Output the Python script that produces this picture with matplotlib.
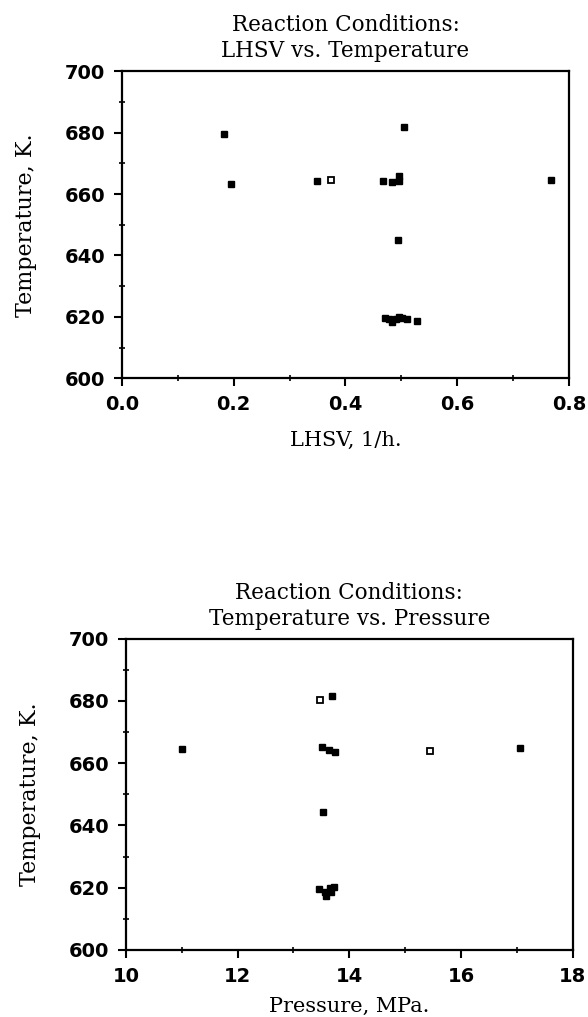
import matplotlib
matplotlib.use("Agg")
import matplotlib.pyplot as plt
from matplotlib.ticker import MultipleLocator

# LHSV vs temperature
lhsv = [0.183, 0.195, 0.349, 0.374, 0.468, 0.483, 0.495, 0.495, 0.505, 0.494,
        0.471, 0.478, 0.484, 0.490, 0.495, 0.502, 0.510, 0.528, 0.768]
temp_a = [679.7, 663.2, 664.2, 664.5, 664.3, 664.0, 664.1, 666.0, 681.9, 645.0,
          619.5, 619.3, 618.4, 619.3, 620.0, 619.7, 619.3, 618.8, 664.5]
hollow_a = [3]

# pressure vs temperature
pressure = [11.0, 13.47, 13.69, 13.51, 13.63, 13.74, 13.53, 15.44, 17.05,
            13.45, 13.56, 13.65, 13.72, 13.59, 13.68]
temp_b = [664.6, 680.2, 681.5, 665.3, 664.3, 663.7, 644.3, 663.8, 664.8,
          619.6, 618.6, 619.9, 620.3, 617.4, 618.6]
hollow_b = [1, 7]

xticks_a = [0.0, 0.2, 0.4, 0.6, 0.8]
xticks_b = [10, 12, 14, 16, 18]
yticks = [600, 620, 640, 660, 680, 700]

serif = ['DejaVu Serif']
sans = ['DejaVu Sans']

fig = plt.figure(figsize=(5.88, 10.17), dpi=100)
ax1 = fig.add_axes([0.2075, 0.628, 0.760, 0.302])
ax2 = fig.add_axes([0.214, 0.066, 0.760, 0.306])


def draw(ax, x, y, hollow, xt, xfmt, xminor, title, xlabel, xlpad):
    for i in range(len(x)):
        if i in hollow:
            ax.plot(x[i], y[i], 's', ms=4, mfc='white', mec='black', mew=1.3)
        else:
            ax.plot(x[i], y[i], 's', ms=4, color='black')
    ax.set_xlim(xt[0], xt[-1])
    ax.set_ylim(600, 700)
    ax.set_xticks(xt)
    ax.set_xticklabels([xfmt % v for v in xt])
    ax.set_yticks(yticks)
    ax.set_yticklabels([str(v) for v in yticks])
    ax.xaxis.set_minor_locator(MultipleLocator(xminor))
    ax.yaxis.set_minor_locator(MultipleLocator(10))
    ax.tick_params(which='major', direction='out', length=6, width=1.5, pad=6)
    ax.tick_params(which='minor', direction='inout', length=5, width=1.2)
    for lab in ax.get_xticklabels() + ax.get_yticklabels():
        lab.set_family(sans)
        lab.set_fontweight('bold')
        lab.set_fontsize(14)
    for s in ax.spines.values():
        s.set_linewidth(1.6)
    ax.set_title(title, family=serif, fontsize=15.5, linespacing=1.25, pad=10)
    ax.set_xlabel(xlabel, family=serif, fontsize=15, labelpad=xlpad)
    ax.set_ylabel('Temperature, K.', family=serif, fontsize=16, labelpad=20)


draw(ax1, lhsv, temp_a, hollow_a, xticks_a, '%.1f', 0.1,
     'Reaction Conditions:\nLHSV vs. Temperature', 'LHSV, 1/h.', 12)
draw(ax2, pressure, temp_b, hollow_b, xticks_b, '%d', 1,
     'Reaction Conditions:\nTemperature vs. Pressure', 'Pressure, MPa.', 8)

fig.savefig('out.png', dpi=100)
